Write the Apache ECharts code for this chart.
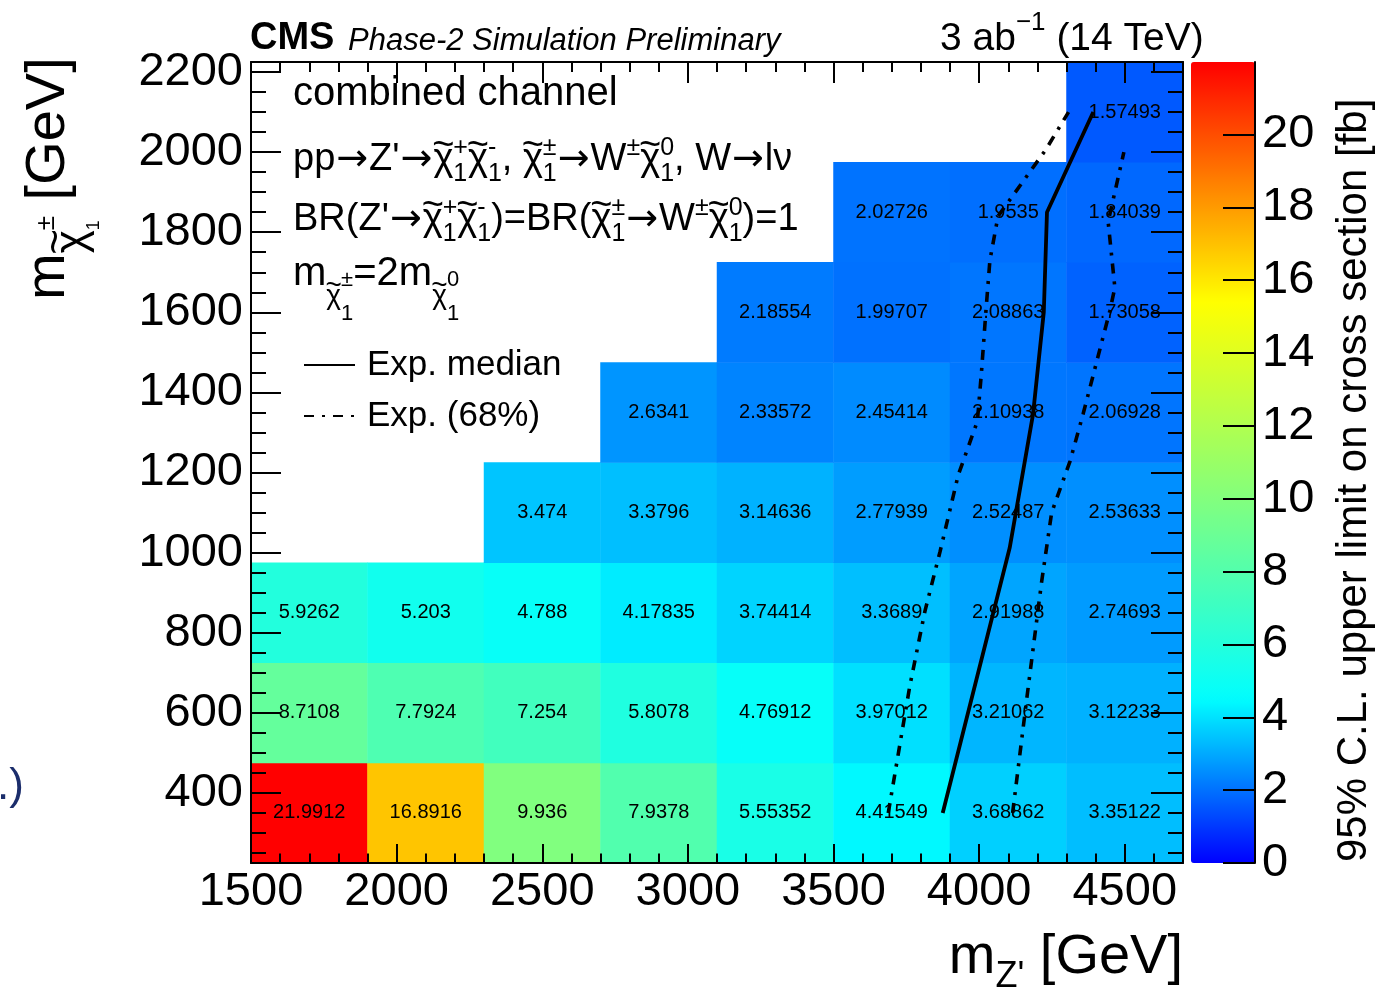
<!DOCTYPE html>
<html>
<head>
<meta charset="utf-8">
<script src="https://cdn.jsdelivr.net/npm/echarts@6/dist/echarts.min.js"></script>
<style>
  html, body { margin: 0; padding: 0; background: #fff; }
  #chart { width: 1381px; height: 999px; }
</style>
</head>
<body>
<div id="chart"></div>
<script>
// Bin centres of the scan grid [GeV]
const mZprime = [1700, 2100, 2500, 2900, 3300, 3700, 4100, 4500];
const mChargino = [350, 600, 850, 1100, 1350, 1600, 1850, 2100];

// 95% CL expected upper limits on the cross section [fb], one row per chargino mass
const limitRow350  = [21.9912, 16.8916, 9.936, 7.9378, 5.55352, 4.41549, 3.68862, 3.35122];
const limitRow600  = [8.7108, 7.7924, 7.254, 5.8078, 4.76912, 3.97012, 3.21062, 3.12233];
const limitRow850  = [5.9262, 5.203, 4.788, 4.17835, 3.74414, 3.3689, 2.91988, 2.74693];
const limitRow1100 = [null, null, 3.474, 3.3796, 3.14636, 2.77939, 2.52487, 2.53633];
const limitRow1350 = [null, null, null, 2.6341, 2.33572, 2.45414, 2.10938, 2.06928];
const limitRow1600 = [null, null, null, null, 2.18554, 1.99707, 2.08863, 1.73058];
const limitRow1850 = [null, null, null, null, null, 2.02726, 1.9535, 1.84039];
const limitRow2100 = [null, null, null, null, null, null, null, 1.57493];

// Exclusion contours [mZ', mchi]
const expMedian = [[3875, 350], [4105, 1012], [4185, 1345], [4222, 1600], [4233, 1850], [4392, 2100]];
const exp68Low = [[3688, 350], [3762, 667], [3814, 854], [3866, 1003], [3928, 1193], [3994, 1328],
                  [4008, 1450], [4023, 1600], [4037, 1730], [4065, 1840], [4228, 2005], [4307, 2100]];
const exp68High = [[4115, 350], [4163, 632], [4214, 924], [4249, 1100], [4312, 1228], [4357, 1346],
                   [4449, 1604], [4466, 1662], [4443, 1826], [4497, 2000]];

// Axis ticks
const xMajorTicks = [1500, 2000, 2500, 3000, 3500, 4000, 4500];
const yMajorTicks = [400, 600, 800, 1000, 1200, 1400, 1600, 1800, 2000, 2200];
const zMajorTicks = [0, 2, 4, 6, 8, 10, 12, 14, 16, 18, 20];

const limitRows = [limitRow350, limitRow600, limitRow850, limitRow1100,
                   limitRow1350, limitRow1600, limitRow1850, limitRow2100];

const X_MIN = 1500, X_MAX = 4700, Y_MIN = 225, Y_MAX = 2225;

const heatData = [];
limitRows.forEach((row, iy) => row.forEach((v, ix) => {
  if (v !== null) heatData.push([ix, iy, v]);
}));
const zMax = Math.max(...heatData.map(d => d[2]));

const xMinorTicks = [];
for (let v = X_MIN + 100; v < X_MAX; v += 100) if (v % 500 !== 0) xMinorTicks.push(v);
const yMinorTicks = [];
for (let v = 250; v < Y_MAX; v += 50) if (v % 200 !== 0) yMinorTicks.push(v);

// Rainbow palette: blue -> cyan -> light green -> yellow -> red
const paletteStops = [
  [0.00, [0, 0, 255]],
  [0.205, [0, 255, 255]],
  [0.45, [128, 255, 128]],
  [0.70, [255, 255, 0]],
  [1.00, [255, 0, 0]]
];
function paletteAt(t) {
  for (let i = 1; i < paletteStops.length; i++) {
    const [t1, c1] = paletteStops[i];
    const [t0, c0] = paletteStops[i - 1];
    if (t <= t1) {
      const f = (t - t0) / (t1 - t0);
      const c = c0.map((a, k) => Math.round(a + (c1[k] - a) * f));
      return `rgb(${c[0]},${c[1]},${c[2]})`;
    }
  }
  return 'rgb(255,0,0)';
}
const palette = [];
for (let i = 0; i <= 60; i++) palette.push(paletteAt(i / 60));

// ---------- text typesetting helpers (sub/superscripts) ----------
const FONT = "'Liberation Sans', Arial, Helvetica, sans-serif";
const SYM_FONT = "'DejaVu Sans', sans-serif";
const measureCtx = document.createElement('canvas').getContext('2d');
function textWidth(s, size, bold, italic, family) {
  measureCtx.font = `${italic ? 'italic' : 'normal'} ${bold ? 'bold' : 'normal'} ${size}px ${family || FONT}`;
  return measureCtx.measureText(s).width;
}
function glyph(s, x, base, size, opt) {
  opt = opt || {};
  const align = opt.center ? 'center' : 'left';
  return {
    type: 'text', silent: true, x: x, y: base - 0.3465 * size,
    style: {
      text: s, fontFamily: opt.family || FONT, fontSize: size,
      fontWeight: opt.bold ? 'bold' : 'normal', fontStyle: opt.italic ? 'italic' : 'normal',
      fill: opt.color || '#000', align: align, verticalAlign: 'middle',
      textAlign: align, textVerticalAlign: 'middle'
    }
  };
}
// parts: {s, size, rise, bold, italic, family, stack, tilde, pad}
function typeset(parts) {
  const children = [];
  let x = 0, held = 0;
  parts.forEach(p => {
    const w = textWidth(p.s, p.size, p.bold, p.italic, p.family);
    const base = -(p.rise || 0);
    children.push(glyph(p.s, x + (p.pad || 0), base, p.size, p));
    if (p.tilde) children.push(glyph('~', x + w / 2, base - 0.36 * p.size, p.size, { center: true }));
    if (p.stack) { held = Math.max(held, w); }
    else { x += Math.max(held, w) + 2 * (p.pad || 0); held = 0; }
  });
  return { children, width: x };
}
function placed(parts, x, y, rotation) {
  const t = typeset(parts);
  return { type: 'group', x: x, y: y, rotation: rotation || 0, children: t.children };
}
const F = 38, S = 25;
const chi = (up, down) => [
  { s: 'χ', size: F, tilde: true },
  { s: up, size: S, rise: 16, stack: true },
  { s: down, size: S, rise: -10 }
];
const subChi = (up, down) => [
  { s: 'χ', size: 28, rise: -18, tilde: true },
  { s: up, size: 22, rise: 0, stack: true },
  { s: down, size: 22, rise: -34 }
];
const n = (s, size) => ({ s: s, size: size || F });
const arrow = { s: '→', size: 38, family: SYM_FONT, pad: 1 };

const processLine = [n('pp'), arrow, n('Z\''), arrow, ...chi('+', '1'), ...chi('-', '1'), n(', '),
  ...chi('±', '1'), arrow, n('W'), { s: '±', size: S, rise: 16 }, ...chi('0', '1'), n(', W'), arrow, n('lν')];
const brLine = [n('BR(Z\''), arrow, ...chi('+', '1'), ...chi('-', '1'), n(')=BR('), ...chi('±', '1'),
  arrow, n('W'), { s: '±', size: S, rise: 16 }, ...chi('0', '1'), n(')=1')];
const massLine = [n('m', 40), ...subChi('±', '1'), n('=2m', 40), ...subChi('0', '1')];

const xTitle = [n('m', 56), { s: 'Z\'', size: 36, rise: -13 }, n(' [GeV]', 56)];
const xTitleWidth = typeset(xTitle).width;
const yTitle = [n('m', 56), { s: 'χ', size: 44, rise: -20, tilde: true },
  { s: '±', size: 26, rise: 12, stack: true }, { s: '1', size: 18, rise: -32 }, n(' [GeV]', 56)];
const lumiParts = [n('3 ab', 39), { s: '−1', size: 26, rise: 21 }, n(' (14 TeV)', 39)];

const graphics = [
  placed([{ s: 'CMS', size: 38, bold: true }], 250, 52),
  placed([{ s: 'Phase-2 Simulation Preliminary', size: 31, italic: true }], 348, 52),
  placed(lumiParts, 940, 53),
  placed([n('combined channel', 40)], 293, 108),
  placed(processLine, 293, 173),
  placed(brLine, 293, 233),
  placed(massLine, 293, 288),
  placed(xTitle, 1183 - xTitleWidth, 977),
  placed(yTitle, 68, 300, Math.PI / 2),
  placed([{ s: '95% C.L. upper limit on cross section [fb]', size: 42 }], 1369, 862, Math.PI / 2),
  placed([{ s: '.)', size: 44, color: '#1b2d6b' }], -3, 802)
];

// ---------- axes ----------
const black = '#000';
const labelStyle = { fontFamily: FONT, fontSize: 47, color: black, formatter: v => String(v) };
function valueAxis(extra) {
  return Object.assign({
    type: 'value', gridIndex: 0, z: 10,
    splitLine: { show: false },
    axisLine: { show: false, onZero: false },
    axisLabel: { show: false },
    axisTick: { show: false }
  }, extra);
}
function ticks(values, length) {
  return { show: true, inside: true, length: length, customValues: values,
           lineStyle: { color: black, width: 2 } };
}
const frameLine = { show: true, onZero: false, lineStyle: { color: black, width: 2 } };

const option = {
  animation: false,
  backgroundColor: '#fff',
  grid: [
    { left: 251, top: 62, width: 932, height: 801, show: false },
    { left: 1191, top: 62, width: 64, height: 801, show: false }
  ],
  xAxis: [
    valueAxis({ min: X_MIN, max: X_MAX, position: 'bottom', axisLine: frameLine,
      axisTick: ticks(xMajorTicks, 19),
      axisLabel: Object.assign({ show: true, margin: 6, customValues: xMajorTicks }, labelStyle) }),
    valueAxis({ min: X_MIN, max: X_MAX, position: 'bottom', axisTick: ticks(xMinorTicks, 9.5) }),
    valueAxis({ min: X_MIN, max: X_MAX, position: 'top', axisLine: frameLine, axisTick: ticks(xMajorTicks, 21) }),
    valueAxis({ min: X_MIN, max: X_MAX, position: 'top', axisTick: ticks(xMinorTicks, 10) }),
    { type: 'category', gridIndex: 0, data: mZprime.map(String), show: false },
    { type: 'value', gridIndex: 1, min: 0, max: 1, show: false }
  ],
  yAxis: [
    valueAxis({ min: Y_MIN, max: Y_MAX, position: 'left', axisLine: frameLine,
      axisTick: ticks(yMajorTicks, 30),
      axisLabel: Object.assign({ show: true, margin: 8, customValues: yMajorTicks }, labelStyle) }),
    valueAxis({ min: Y_MIN, max: Y_MAX, position: 'left', axisTick: ticks(yMinorTicks, 15) }),
    valueAxis({ min: Y_MIN, max: Y_MAX, position: 'right', axisLine: frameLine, axisTick: ticks(yMajorTicks, 32) }),
    valueAxis({ min: Y_MIN, max: Y_MAX, position: 'right', axisTick: ticks(yMinorTicks, 15) }),
    { type: 'category', gridIndex: 0, data: mChargino.map(String), show: false },
    valueAxis({ gridIndex: 1, min: 0, max: zMax, position: 'right', axisLine: frameLine,
      axisTick: ticks(zMajorTicks, 32),
      axisLabel: Object.assign({ show: true, margin: 7, customValues: zMajorTicks }, labelStyle) })
  ],
  visualMap: {
    type: 'continuous', seriesIndex: 0, dimension: 2, min: 0, max: zMax,
    orient: 'vertical', left: 1191, top: 62, itemWidth: 64, itemHeight: 801,
    calculable: false, hoverLink: false, text: null, padding: 0,
    inRange: { color: palette }
  },
  legend: {
    data: ['Exp. median', 'Exp. (68%)'], orient: 'vertical', left: 303, top: 347,
    itemWidth: 51, itemHeight: 20, itemGap: 15, padding: 0, selectedMode: false,
    itemStyle: { opacity: 0 },
    textStyle: { fontFamily: FONT, fontSize: 35, color: black, lineHeight: 36, padding: [0, 0, 0, 7] }
  },
  graphic: { elements: graphics },
  series: [
    {
      type: 'heatmap', xAxisIndex: 4, yAxisIndex: 4, data: heatData, z: 2,
      label: { show: true, color: black, fontFamily: FONT, fontSize: 20,
               formatter: p => String(p.value[2]) },
      itemStyle: { borderWidth: 0 },
      emphasis: { disabled: true }
    },
    {
      type: 'line', name: 'Exp. median', xAxisIndex: 0, yAxisIndex: 0, data: expMedian,
      symbol: 'none', z: 5, silent: true, lineStyle: { color: black, width: 3.8 }
    },
    {
      type: 'line', name: 'Exp. (68%)', xAxisIndex: 0, yAxisIndex: 0, data: exp68Low,
      symbol: 'none', z: 5, silent: true, lineStyle: { color: black, width: 3.6, type: [10, 8, 3, 8] }
    },
    {
      type: 'line', name: 'Exp. (68%)', xAxisIndex: 0, yAxisIndex: 0, data: exp68High,
      symbol: 'none', z: 5, silent: true, lineStyle: { color: black, width: 3.6, type: [10, 8, 3, 8] }
    }
  ]
};

const chart = echarts.init(document.getElementById('chart'), null, { renderer: 'canvas' });
chart.setOption(option);
</script>
</body>
</html>
